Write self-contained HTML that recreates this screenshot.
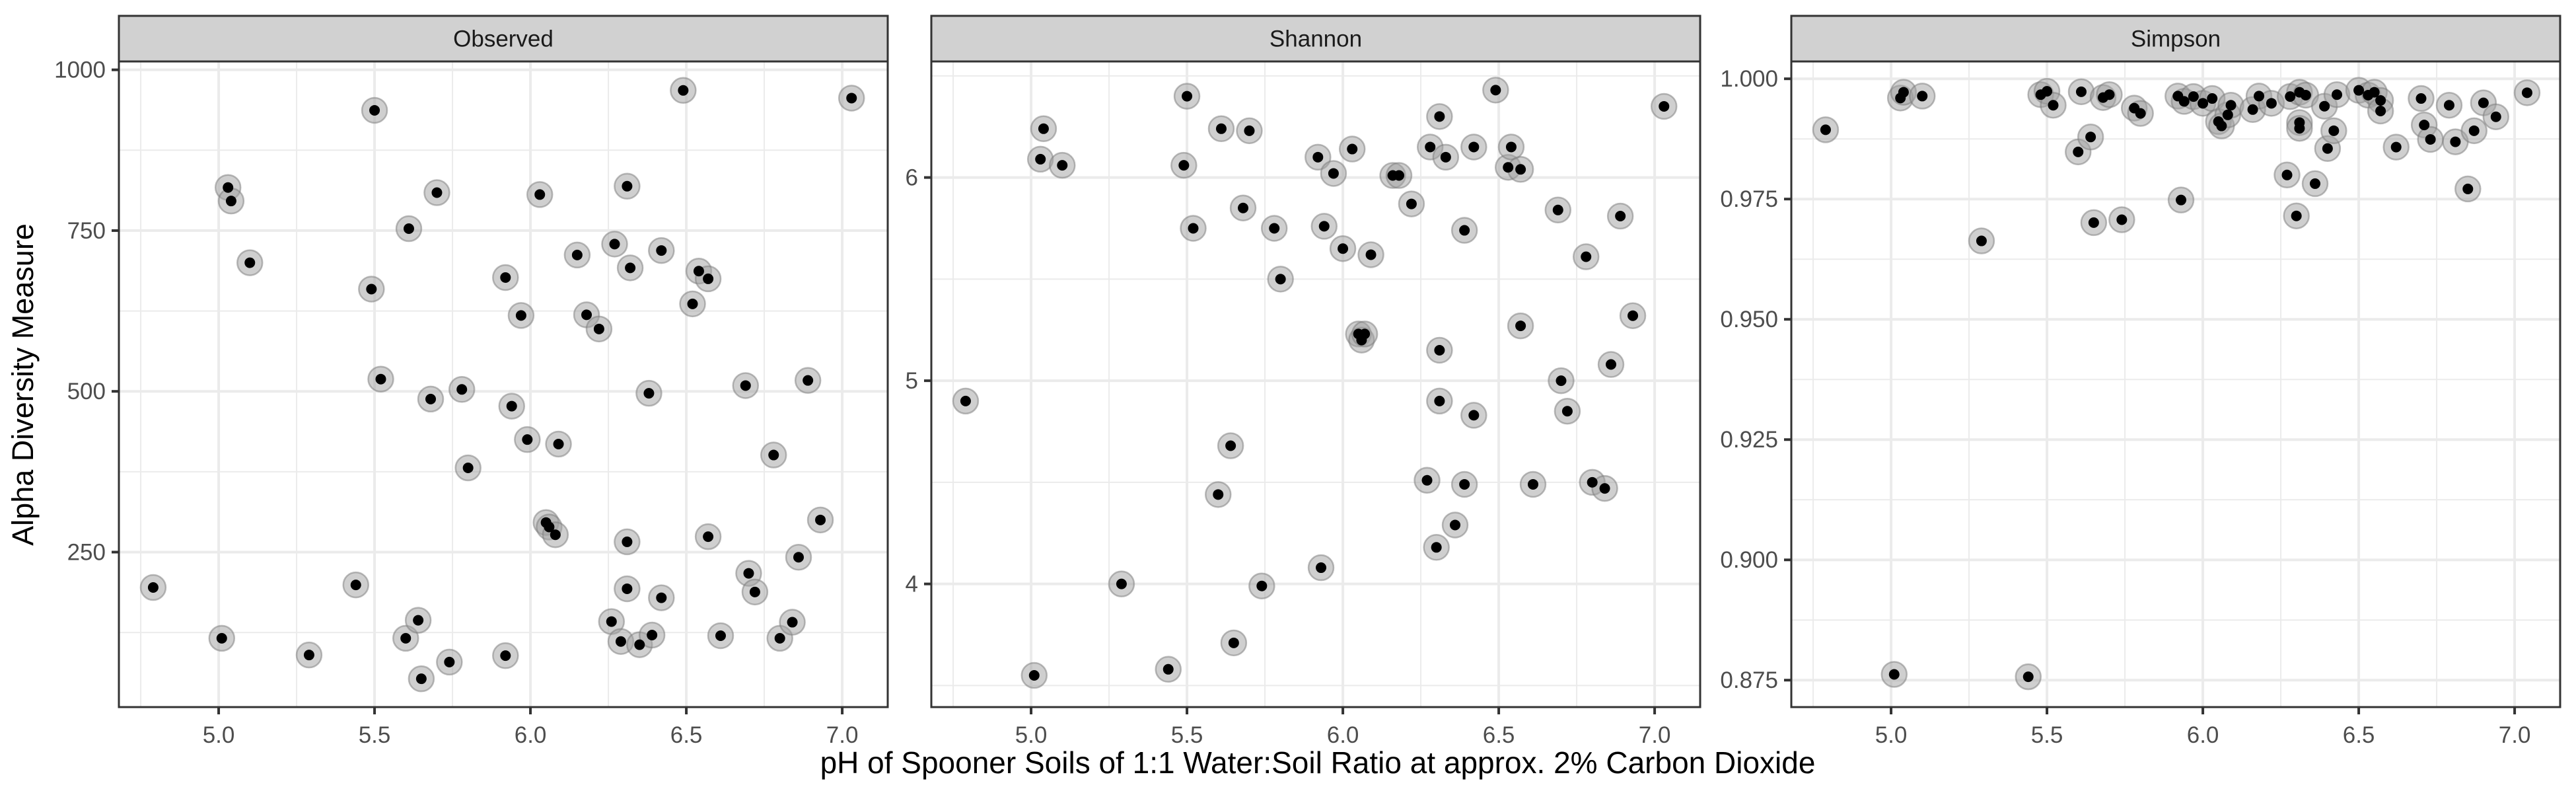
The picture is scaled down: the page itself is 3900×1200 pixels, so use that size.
<!DOCTYPE html>
<html><head><meta charset="utf-8"><style>
html,body{margin:0;padding:0;background:#fff;}
svg{display:block;font-family:"Liberation Sans",Arial,sans-serif;}
</style></head><body>
<svg id="chart" width="3900" height="1200" viewBox="0 0 3900 1200" xmlns="http://www.w3.org/2000/svg">
<rect width="3900" height="1200" fill="#fff"/>
<text x="0" y="0" transform="translate(50,582) rotate(-90)" text-anchor="middle" font-size="45" fill="#000">Alpha Diversity Measure</text>
<text x="1995" y="1170" text-anchor="middle" font-size="46" fill="#000">pH of Spooner Soils of 1:1 Water:Soil Ratio at approx. 2% Carbon Dioxide</text>
</svg>
<script>
const obsX=[4.79,5.01,5.03,5.04,5.10,5.29,5.44,5.50,5.49,5.52,5.60,5.61,5.64,5.65,5.68,5.70,5.74,5.78,5.80,5.92,5.92,5.94,5.97,5.99,6.03,6.05,6.06,6.08,6.09,6.15,6.18,6.22,6.26,6.27,6.29,6.31,6.31,6.31,6.32,6.35,6.38,6.39,6.42,6.42,6.49,6.52,6.54,6.57,6.57,6.61,6.69,6.70,6.72,6.78,6.80,6.84,6.86,6.89,6.93,7.03];
const obsY=[195,116,817,796,700,90,199,937,659,519,116,753,144,53,488,809,79,503,381,677,89,477,618,425,806,296,289,277,418,712,619,597,142,729,111,266,193,819,692,106,497,121,179,719,968,636,687,675,274,120,509,217,188,401,116,141,242,517,300,956];
const shaX=[4.79,5.01,5.03,5.04,5.10,5.29,5.44,5.49,5.50,5.52,5.60,5.61,5.64,5.65,5.68,5.70,5.74,5.78,5.80,5.92,5.93,5.94,5.97,6.00,6.03,6.05,6.06,6.07,6.09,6.16,6.18,6.22,6.27,6.28,6.30,6.31,6.31,6.31,6.33,6.36,6.39,6.39,6.42,6.42,6.49,6.53,6.54,6.57,6.57,6.61,6.69,6.70,6.72,6.78,6.80,6.84,6.86,6.89,6.93,7.03];
const shaY=[4.90,3.55,6.09,6.24,6.06,4.00,3.58,6.06,6.40,5.75,4.44,6.24,4.68,3.71,5.85,6.23,3.99,5.75,5.50,6.10,4.08,5.76,6.02,5.65,6.14,5.23,5.20,5.23,5.62,6.01,6.01,5.87,4.51,6.15,4.18,6.30,5.15,4.90,6.10,4.29,5.74,4.49,4.83,6.15,6.43,6.05,6.15,6.04,5.27,4.49,5.84,5.00,4.85,5.61,4.50,4.47,5.08,5.81,5.32,6.35];
const simX=[4.79,5.01,5.03,5.04,5.10,5.29,5.44,5.48,5.50,5.52,5.60,5.61,5.64,5.65,5.68,5.70,5.74,5.78,5.80,5.92,5.93,5.94,5.97,6.00,6.03,6.05,6.06,6.08,6.09,6.16,6.18,6.22,6.27,6.28,6.30,6.31,6.31,6.31,6.33,6.36,6.39,6.40,6.42,6.43,6.50,6.53,6.55,6.57,6.57,6.62,6.70,6.71,6.73,6.79,6.81,6.85,6.87,6.90,6.94,7.04];
const simY=[0.9894,0.8762,0.9960,0.9972,0.9964,0.9663,0.8757,0.9967,0.9974,0.9945,0.9848,0.9973,0.9879,0.9701,0.9961,0.9967,0.9707,0.9939,0.9928,0.9964,0.9748,0.9953,0.9963,0.9949,0.9959,0.9911,0.9902,0.9925,0.9945,0.9936,0.9964,0.9949,0.9800,0.9963,0.9715,0.9972,0.9909,0.9897,0.9966,0.9782,0.9943,0.9855,0.9892,0.9967,0.9976,0.9966,0.9972,0.9955,0.9933,0.9858,0.9959,0.9904,0.9874,0.9945,0.9869,0.9771,0.9892,0.9950,0.9921,0.9971];
const panelTitles=["Observed","Shannon","Simpson"];
const xTicks=[5.0,5.5,6.0,6.5,7.0];
const xTickLabels=["5.0","5.5","6.0","6.5","7.0"];
const obsTicks=[250,500,750,1000];
const obsTickLabels=["250","500","750","1000"];
const shaTicks=[4,5,6];
const shaTickLabels=["4","5","6"];
const simTicks=[0.875,0.900,0.925,0.950,0.975,1.000];
const simTickLabels=["0.875","0.900","0.925","0.950","0.975","1.000"];

const NS="http://www.w3.org/2000/svg";
const svg=document.getElementById('chart');
function mk(tag,attrs,parent){const e=document.createElementNS(NS,tag);for(const k in attrs)e.setAttribute(k,attrs[k]);(parent||svg).appendChild(e);return e;}

const TOP=93,BOT=1070,STRIP=24;
const panels=[
 {left:180,right:1344,ymin:9,ymax:1013,xs:obsX,ys:obsY,ticks:obsTicks,labels:obsTickLabels,minor:[125,375,625,875],key:'observed'},
 {left:1410,right:2574,ymin:3.394,ymax:6.571,xs:shaX,ys:shaY,ticks:shaTicks,labels:shaTickLabels,minor:[3.5,4.5,5.5,6.5],key:'shannon'},
 {left:2712,right:3876,ymin:0.8694,ymax:1.0036,xs:simX,ys:simY,ticks:simTicks,labels:simTickLabels,minor:[0.8875,0.9125,0.9375,0.9625,0.9875],key:'simpson'}
];
const XMIN=4.68,XMAX=7.146;
const xMinor=[4.75,5.25,5.75,6.25,6.75];

panels.forEach((p,pi)=>{
 const sx=v=>p.left+(v-XMIN)/(XMAX-XMIN)*(p.right-p.left);
 const sy=v=>BOT-(v-p.ymin)/(p.ymax-p.ymin)*(BOT-TOP);
 const g=mk('g',{});
 
 
 xMinor.forEach(v=>{const l=mk('line',{x1:sx(v),x2:sx(v),y1:TOP,y2:BOT,stroke:'#ebebeb','stroke-width':2},g);
  
  });
 p.minor.forEach(v=>{const l=mk('line',{x1:p.left,x2:p.right,y1:sy(v),y2:sy(v),stroke:'#ebebeb','stroke-width':2},g);
  
  });
 xTicks.forEach((v,i)=>{
  const l=mk('line',{x1:sx(v),x2:sx(v),y1:TOP,y2:BOT,stroke:'#ebebeb','stroke-width':4},g);
  
  
  const t=mk('line',{x1:sx(v),x2:sx(v),y1:BOT,y2:BOT+11,stroke:'#333','stroke-width':4},g);
  
  
  const tx=mk('text',{x:sx(v),y:BOT+54,'text-anchor':'middle','font-size':35,fill:'#4d4d4d'},g);
  tx.textContent=xTickLabels[i];
  
  
 });
 p.ticks.forEach((v,i)=>{
  const l=mk('line',{x1:p.left,x2:p.right,y1:sy(v),y2:sy(v),stroke:'#ebebeb','stroke-width':4},g);
  
  
  const t=mk('line',{x1:p.left-11,x2:p.left,y1:sy(v),y2:sy(v),stroke:'#333','stroke-width':4},g);
  
  
  const tx=mk('text',{x:p.left-20,y:sy(v)+12,'text-anchor':'end','font-size':35,fill:'#4d4d4d'},g);
  tx.textContent=p.labels[i];
  
  
 });
 p.xs.forEach((xv,i)=>{
  const c=mk('circle',{cx:sx(xv),cy:sy(p.ys[i]),r:19,fill:'#a0a0a0','fill-opacity':0.5,stroke:'#7a7a7a','stroke-opacity':0.5,'stroke-width':2.5},g);
  
  
 });
 p.xs.forEach((xv,i)=>{
  const c=mk('circle',{cx:sx(xv),cy:sy(p.ys[i]),r:8,fill:'#000'},g);
  
  
 });
 const b=mk('rect',{x:p.left,y:TOP,width:p.right-p.left,height:BOT-TOP,fill:'none',stroke:'#333','stroke-width':3},g);
 
 
 const s=mk('rect',{x:p.left,y:STRIP,width:p.right-p.left,height:TOP-STRIP,fill:'#d1d1d1',stroke:'#333','stroke-width':3},g);
 
 
 const st=mk('text',{x:(p.left+p.right)/2,y:(STRIP+TOP)/2+12,'text-anchor':'middle','font-size':35,fill:'#1a1a1a'},g);
 st.textContent=panelTitles[pi];
 
 
});
</script>
</body></html>
